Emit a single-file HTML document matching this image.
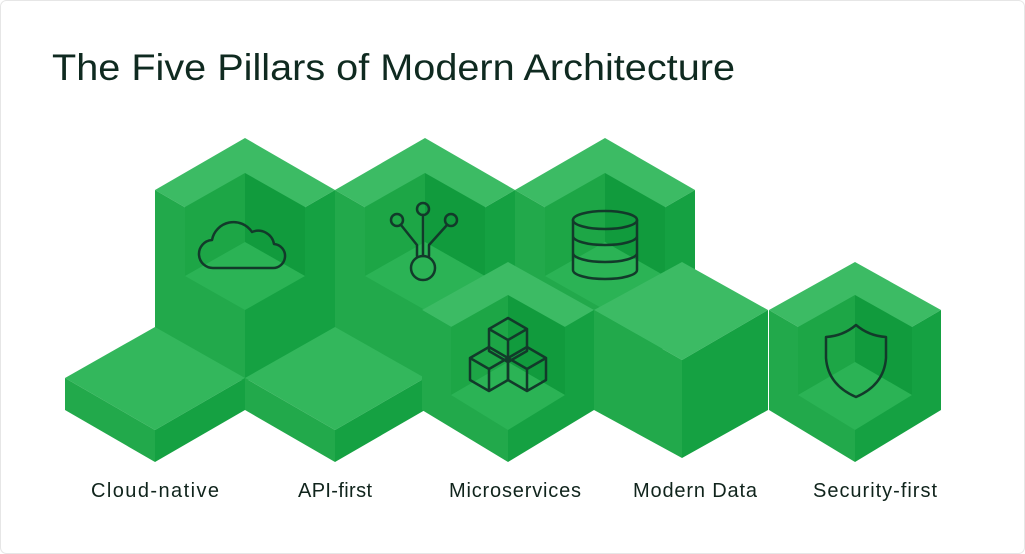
<!DOCTYPE html>
<html><head><meta charset="utf-8"><style>
html,body{margin:0;padding:0;background:#fff}
svg{display:block}
</style></head><body>
<svg width="1025" height="554" viewBox="0 0 1025 554" xmlns="http://www.w3.org/2000/svg">
<rect x="0.5" y="0.5" width="1024" height="553" rx="6" fill="#fff" stroke="#e6e6e6"/>
<text x="52" y="80" font-family="Liberation Sans, sans-serif" font-size="37" fill="#0f2a20" textLength="683" lengthAdjust="spacingAndGlyphs">The Five Pillars of Modern Architecture</text>

<defs>
<g id="up">
 <polygon points="0,0 90,52 0,104 -90,52" fill="#3cbb64"/>
 <polygon points="-90,52 0,104 0,244 -90,192" fill="#22a94b"/>
 <polygon points="0,104 90,52 90,192 0,244" fill="#15a142"/>
 <polygon points="-60,69 0,35 0,104 -60,138" fill="#1da646"/>
 <polygon points="0,35 60,69 60,138 0,104" fill="#119b3d"/>
 <polygon points="0,104 60,138 0,172 -60,138" fill="#2bb355"/>
</g>
<g id="lo">
 <polygon points="0,0 86,48 0,98 -86,48" fill="#3cbb64"/>
 <polygon points="-86,48 0,98 0,200 -86,148" fill="#22a94b"/>
 <polygon points="0,98 86,48 86,148 0,200" fill="#15a142"/>
 <polygon points="-57,65 0,33 0,100 -57,133" fill="#1da646"/>
 <polygon points="0,33 57,65 57,133 0,100" fill="#119b3d"/>
 <polygon points="0,100 57,133 0,168 -57,133" fill="#2bb355"/>
</g>
<g id="slab">
 <polygon points="0,0 90,51 0,103 -90,51" fill="#33b75c"/>
 <polygon points="-90,51 0,103 0,135 -90,83" fill="#22a94b"/>
 <polygon points="0,103 90,51 90,83 0,135" fill="#15a142"/>
</g>
<g id="cube">
 <path d="M0,0 L19,11 L0,22 L-19,11 Z M-19,11 V33 L0,44 L19,33 V11 M0,22 V44"/>
</g>
</defs>

<use href="#up" x="245" y="138"/>
<use href="#up" x="425" y="138"/>
<use href="#up" x="605" y="138"/>
<!-- big data cube -->
<polygon points="682,262 768,310 682,360 594,310" fill="#3cbb64"/>
<polygon points="594,310 682,360 682,458 594,410" fill="#22a94b"/>
<polygon points="682,360 768,310 768,410 682,458" fill="#15a142"/>
<use href="#lo" x="855" y="262"/>
<use href="#slab" x="155" y="327"/>
<use href="#slab" x="335" y="327"/>
<use href="#lo" x="508" y="262"/>

<g fill="none" stroke="#123a2a" stroke-width="2.5" stroke-linejoin="round" stroke-linecap="round">
 <!-- cloud -->
 <path d="M214,268 H272 A12,12 0 0 0 274,244 A16,16 0 0 0 252,232 A22,22 0 0 0 212,240 A14,14 0 0 0 214,268 Z"/>
 <!-- api -->
 <circle cx="397" cy="220" r="6"/><circle cx="423" cy="209" r="6"/><circle cx="451" cy="220" r="6"/>
 <circle cx="423" cy="268" r="12"/>
 <path d="M423,215 V256 M401,225 L417,245 V256 M447,225 L429,245 V256"/>
 <!-- database -->
 <ellipse cx="605" cy="220" rx="32" ry="9"/>
 <path d="M573,220 V270 A32,9 0 0 0 637,270 V220 M573,236 A32,9 0 0 0 637,236 M573,253 A32,9 0 0 0 637,253"/>
 <!-- cubes -->
 <use href="#cube" x="508" y="318"/>
 <use href="#cube" x="489" y="347"/>
 <use href="#cube" x="527" y="347"/>
 <!-- shield -->
 <path d="M856,325 Q843,336 826,337 V358 Q828,385 856,397 Q884,385 886,358 V337 Q869,336 856,325 Z"/>
</g>

<g font-family="Liberation Sans, sans-serif" font-size="20" fill="#10241c" lengthAdjust="spacingAndGlyphs">
 <text x="91" y="497" textLength="128">Cloud-native</text>
 <text x="298" y="497" textLength="74">API-first</text>
 <text x="449" y="497" textLength="132">Microservices</text>
 <text x="633" y="497" textLength="124">Modern Data</text>
 <text x="813" y="497" textLength="124">Security-first</text>
</g>
</svg>
</body></html>
